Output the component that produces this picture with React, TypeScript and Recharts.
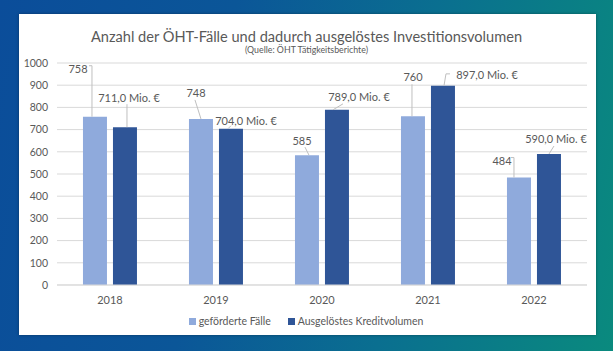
import React from 'react';
import { BarChart, Bar, XAxis, YAxis, CartesianGrid, Legend, LabelList } from 'recharts';

const years = ['2018', '2019', '2020', '2021', '2022'];
const cases = [758, 748, 585, 760, 484];
const volume = [711, 704, 789, 897, 590];
const yTicks = [0, 100, 200, 300, 400, 500, 600, 700, 800, 900, 1000];

const seriesNames = { cases: 'geförderte Fälle', volume: 'Ausgelöstes Kreditvolumen' };
const colors = { cases: '#8FAADC', volume: '#2F5597' };
const TEXT = '#595959';
const FONT = 'Lato, "Open Sans", sans-serif';

const data = years.map((y, i) => ({ year: y, cases: cases[i], volume: volume[i] }));

// manual label placement (relative to bar top centre), like moved Excel data labels
type LP = { dx: number; dy: number; line: number[][] };
const casePos: LP[] = [
  { dx: -17, dy: -48, line: [[-6, -51], [-3, -51], [-3, 0]] },
  { dx: -5, dy: -26, line: [[-6, -19], [0, 0]] },
  { dx: -5, dy: -15, line: [[-2, -8], [2, 0]] },
  { dx: 0, dy: -40, line: [[-1, -32], [-1, 0]] },
  { dx: -17, dy: -17, line: [[-8, -20], [-5, -20], [-5, 0]] },
];
const volumePos: LP[] = [
  { dx: 4, dy: -30, line: [[2, -23], [2, 0]] },
  { dx: 15, dy: -8, line: [[0, -3], [-3, 0]] },
  { dx: 22, dy: -13, line: [[6, -6], [-4, 0]] },
  { dx: 44, dy: -11, line: [[7, -12], [3, -12], [1, 0]] },
  { dx: 7, dy: -16, line: [[5, -8], [0, 0]] },
];

const makeLabel = (pos: LP[], fmt: (v: number) => string) => (props: any) => {
  const { x, y, width, value, index } = props;
  const p = pos[index];
  const cx = Number(x) + Number(width) / 2;
  const ty = Number(y);
  const pts = p.line.map(([a, b]) => `${cx + a},${ty + b}`).join(' ');
  return (
    <g>
      <polyline points={pts} fill="none" stroke="#BFBFBF" strokeWidth={1} />
      <text
        x={cx + p.dx}
        y={ty + p.dy}
        textAnchor="middle"
        dominantBaseline="central"
        fill={TEXT}
        fontSize={11}
        fontFamily={FONT}
      >
        {fmt(Number(value))}
      </text>
    </g>
  );
};

const fmtCases = (v: number) => String(v);
const fmtVolume = (v: number) => v.toFixed(1).replace('.', ',') + ' Mio. €';

const LegendContent = () => (
  <div
    style={{
      display: 'flex',
      justifyContent: 'center',
      alignItems: 'center',
      fontFamily: FONT,
      fontSize: 10.5,
      color: TEXT,
      height: 20,
      paddingLeft: 8,
    }}
  >
    {(['cases', 'volume'] as const).map((k, i) => (
      <div key={k} style={{ display: 'flex', alignItems: 'center', marginLeft: i ? 17 : 0 }}>
        <span style={{ width: 7, height: 7, background: colors[k], display: 'inline-block', marginRight: 3 }} />
        <span>{seriesNames[k]}</span>
      </div>
    ))}
  </div>
);

export default function App() {
  return (
    <div
      style={{
        position: 'fixed',
        left: 0,
        top: 0,
        width: 613,
        height: 351,
        overflow: 'hidden',
        background: 'linear-gradient(100deg, #0b4d9a 0%, #0b5698 35%, #0a6f90 65%, #0a8a7e 100%)',
      }}
    >
      <div
        style={{
          position: 'absolute',
          left: 19,
          top: 14,
          width: 577,
          height: 321,
          background: '#fff',
          boxShadow: '0 0 3px rgba(0,0,0,0.35)',
        }}
      />
      <div
        style={{
          position: 'absolute',
          left: 0,
          top: 28,
          width: 613,
          textAlign: 'center',
          fontFamily: FONT,
          fontSize: 14.6,
          color: TEXT,
          lineHeight: '18px',
        }}
      >
        Anzahl der ÖHT-Fälle und dadurch ausgelöstes Investitionsvolumen
      </div>
      <div
        style={{
          position: 'absolute',
          left: 0,
          top: 44,
          width: 613,
          textAlign: 'center',
          fontFamily: FONT,
          fontSize: 8.8,
          color: TEXT,
          lineHeight: '11px',
        }}
      >
        (Quelle: ÖHT Tätigkeitsberichte)
      </div>
      <div style={{ position: 'absolute', left: 0, top: 0 }}>
        <BarChart
          width={613}
          height={351}
          data={data}
          margin={{ top: 63, right: 26, bottom: 20, left: 17 }}
          barCategoryGap="24.5%"
          barGap={6}
        >
          <CartesianGrid vertical={false} stroke="#D9D9D9" />
          <XAxis
            dataKey="year"
            height={26}
            tickLine={false}
            axisLine={{ stroke: '#D9D9D9' }}
            tick={{ fill: TEXT, fontSize: 11, fontFamily: FONT }}
            tickMargin={5}
          />
          <YAxis
            width={40}
            domain={[0, 1000]}
            ticks={yTicks}
            interval={0}
            tickLine={false}
            axisLine={false}
            tick={{ fill: TEXT, fontSize: 10.5, fontFamily: FONT }}
            tickMargin={3}
          />
          <Legend verticalAlign="bottom" height={20} content={<LegendContent />} />
          <Bar dataKey="cases" name={seriesNames.cases} fill={colors.cases} isAnimationActive={false}>
            <LabelList dataKey="cases" content={makeLabel(casePos, fmtCases)} />
          </Bar>
          <Bar dataKey="volume" name={seriesNames.volume} fill={colors.volume} isAnimationActive={false}>
            <LabelList dataKey="volume" content={makeLabel(volumePos, fmtVolume)} />
          </Bar>
        </BarChart>
      </div>
    </div>
  );
}
